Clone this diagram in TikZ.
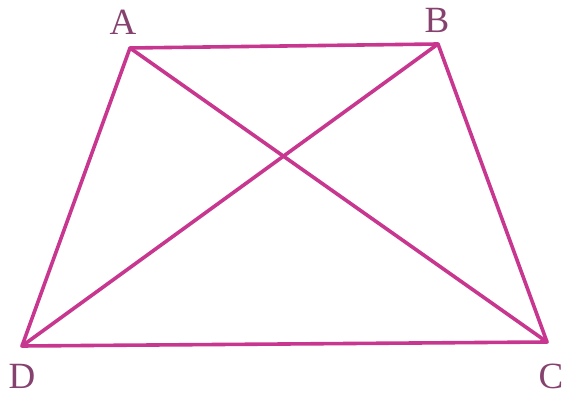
\documentclass[tikz,border=0pt]{standalone}
\usepackage{fontspec}
\setmainfont{Liberation Serif}
\usepackage{tikz}
\usetikzlibrary{positioning}
\definecolor{edgemagenta}{HTML}{C8378F}
\definecolor{labelpurple}{HTML}{86426F}

\begin{document}
\begin{tikzpicture}[
    x=1pt, y=1pt,
    edge/.style={draw=edgemagenta, line width=3.6pt, line cap=round, line join=round},
    vlabel/.style={font=\fontsize{37}{37}\selectfont, text=labelpurple, inner sep=0pt},
]
\useasboundingbox (0,0) rectangle (567,398);

% Vertices of the trapezium
\coordinate (A) at (130, 350);
\coordinate (B) at (438, 354);
\coordinate (C) at (547, 56);
\coordinate (D) at (22, 52);

% Labels
\node[vlabel] (lA) at (123, 376) {A};
\node[vlabel] (lB) at (437, 378) {B};
\node[vlabel] (lC) at (551, 22) {C};
\node[vlabel] (lD) at (22, 22) {D};

% Sides
\draw[edge] (A) -- (B) -- (C) -- (D) -- cycle;

% Diagonals
\draw[edge] (A) -- (C);
\draw[edge] (B) -- (D);

\end{tikzpicture}
\end{document}
